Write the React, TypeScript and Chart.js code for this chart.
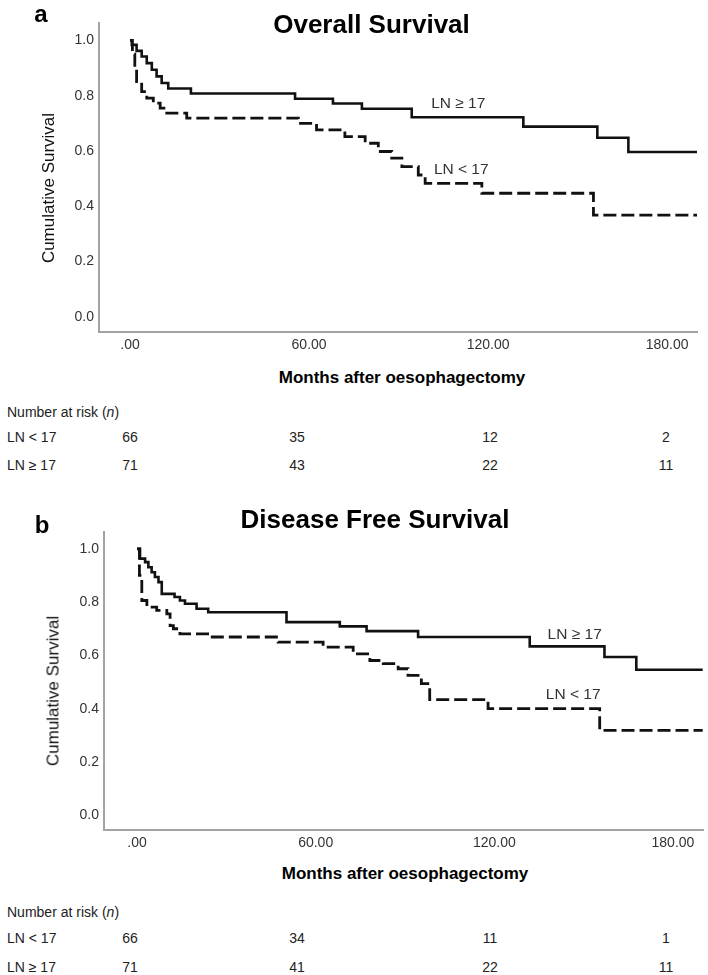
import React, { useEffect, useRef, useState } from "react";
import { Chart, registerables } from "chart.js";

Chart.register(...registerables);

// ---------- data ----------
const xTickValues = [0, 60, 120, 180];
const yTickValues = [0, 0.2, 0.4, 0.6, 0.8, 1.0];

const groupLow = "LN < 17";
const groupHigh = "LN \u2265 17";

// (a) Overall survival
const osHighT = [0, 0.6, 2.2, 3.9, 5.6, 7.3, 8.9, 10.6, 12.8, 20.4, 55.3, 68, 77.7, 94.4, 131.8, 156.6, 167, 190];
const osHighS = [1.0, 0.984, 0.962, 0.942, 0.918, 0.894, 0.87, 0.846, 0.826, 0.808, 0.789, 0.772, 0.753, 0.722, 0.688, 0.648, 0.596, 0.596];
const osLowT = [0, 0.8, 1.6, 2.2, 3.9, 5.6, 7.8, 10.1, 12.3, 19, 56.4, 62.5, 72, 78.8, 83.2, 87.7, 91.1, 96.6, 98.9, 117.9, 155.3, 190];
const osLowS = [1.0, 0.95, 0.9, 0.851, 0.815, 0.791, 0.773, 0.755, 0.737, 0.719, 0.7, 0.676, 0.652, 0.628, 0.598, 0.574, 0.543, 0.513, 0.483, 0.447, 0.368, 0.368];
const osRiskLow = [66, 35, 12, 2];
const osRiskHigh = [71, 43, 22, 11];

// (b) Disease free survival
const dfsHighT = [0, 1, 2.7, 3.8, 4.9, 6, 7.2, 8.3, 12.6, 14.4, 16.1, 20, 23.9, 50.2, 68.1, 77.1, 94.4, 131.9, 157, 167.7, 190];
const dfsHighS = [1.0, 0.963, 0.95, 0.931, 0.912, 0.894, 0.875, 0.831, 0.819, 0.806, 0.794, 0.775, 0.762, 0.725, 0.709, 0.691, 0.669, 0.634, 0.594, 0.546, 0.546];
const dfsLowT = [0, 0.8, 1.6, 3.3, 6.6, 10, 11.1, 12.2, 14.4, 24.5, 47.4, 62.5, 72.6, 78.2, 82.7, 87.7, 91, 95.5, 98.3, 117.9, 155.4, 190];
const dfsLowS = [1.0, 0.9, 0.806, 0.781, 0.769, 0.756, 0.712, 0.7, 0.681, 0.669, 0.65, 0.631, 0.606, 0.581, 0.569, 0.55, 0.525, 0.494, 0.434, 0.4, 0.319, 0.319];
const dfsRiskLow = [66, 34, 11, 1];
const dfsRiskHigh = [71, 41, 22, 11];

// ---------- styling ----------
const FONT = '"Liberation Sans", Arial, Helvetica, sans-serif';
const W = 708;
const CANVAS_H = 360;
const Y_AXIS_W = 60;
const X_AXIS_H = 20;

type Area = { left: number; top: number; right: number; bottom: number };

type PanelProps = {
  top: number;
  letter: string;
  letterPos: [number, number];
  title: string;
  titlePos: [number, number];
  yTitlePos: [number, number];
  xTitlePos: [number, number];
  area: Area;
  xMin: number;
  xMax: number;
  highT: number[];
  highS: number[];
  lowT: number[];
  lowS: number[];
  highLabelAt: [number, number];
  lowLabelAt: [number, number];
  riskLow: number[];
  riskHigh: number[];
  riskHeadY: number;
  riskLowY: number;
  riskHighY: number;
  riskCols: number[];
};

const centered = (x: number, y: number): React.CSSProperties => ({
  position: "absolute",
  left: x,
  top: y,
  transform: "translate(-50%, -50%)",
  whiteSpace: "nowrap",
  lineHeight: 1,
  fontFamily: FONT,
});

function KMPanel(p: PanelProps) {
  const ref = useRef<HTMLCanvasElement | null>(null);
  const [labels, setLabels] = useState<{ hi: [number, number]; lo: [number, number] } | null>(null);

  useEffect(() => {
    const canvas = ref.current;
    if (!canvas) return;
    const mk = (ts: number[], ss: number[]) => ts.map((t, i) => ({ x: t, y: ss[i] }));
    const chart = new Chart(canvas, {
      type: "line",
      data: {
        datasets: [
          {
            label: groupHigh,
            data: mk(p.highT, p.highS),
            borderColor: "#111",
            borderWidth: 2.6,
            stepped: "before",
            pointRadius: 0,
            fill: false,
          },
          {
            label: groupLow,
            data: mk(p.lowT, p.lowS),
            borderColor: "#111",
            borderWidth: 2.8,
            borderDash: [13, 5],
            stepped: "before",
            pointRadius: 0,
            fill: false,
          },
        ],
      },
      options: {
        animation: false,
        responsive: false,
        events: [],
        layout: {
          padding: {
            left: p.area.left - Y_AXIS_W,
            top: p.area.top,
            right: W - p.area.right,
            bottom: CANVAS_H - p.area.bottom - X_AXIS_H,
          },
        },
        plugins: {
          legend: { display: false },
          tooltip: { enabled: false },
          title: { display: false },
        },
        scales: {
          x: {
            type: "linear",
            min: p.xMin,
            max: p.xMax,
            grid: { display: false, drawTicks: false },
            border: { display: true, color: "#a3a3a3", width: 2 },
            ticks: {
              font: { family: FONT, size: 14 },
              color: "#333",
              padding: 5,
              maxRotation: 0,
              autoSkip: false,
              callback: (v: any) => (Number(v) === 0 ? ".00" : Number(v).toFixed(2)),
            },
            afterBuildTicks: (s: any) => {
              s.ticks = xTickValues.map((v) => ({ value: v }));
            },
            afterFit: (s: any) => {
              s.height = X_AXIS_H;
            },
          },
          y: {
            type: "linear",
            min: -0.055,
            max: 1.063,
            grid: { display: false, drawTicks: false },
            border: { display: true, color: "#a3a3a3", width: 2 },
            ticks: {
              font: { family: FONT, size: 14 },
              color: "#333",
              padding: 5,
              callback: (v: any) => Number(v).toFixed(1),
            },
            afterBuildTicks: (s: any) => {
              s.ticks = yTickValues.map((v) => ({ value: v }));
            },
            afterFit: (s: any) => {
              s.width = Y_AXIS_W;
            },
          },
        },
      },
    });
    const xs = chart.scales.x;
    const ys = chart.scales.y;
    setLabels({
      hi: [xs.getPixelForValue(p.highLabelAt[0]), ys.getPixelForValue(p.highLabelAt[1])],
      lo: [xs.getPixelForValue(p.lowLabelAt[0]), ys.getPixelForValue(p.lowLabelAt[1])],
    });
    return () => chart.destroy();
  }, []);

  const rowLabel = (y: number): React.CSSProperties => ({
    position: "absolute",
    left: 7,
    top: y,
    transform: "translateY(-50%)",
    lineHeight: 1,
    whiteSpace: "nowrap",
    fontFamily: FONT,
    fontSize: 14,
    color: "#222",
  });

  return (
    <div style={{ position: "absolute", left: 0, top: p.top, width: W, height: 475 }}>
      <canvas
        ref={ref}
        width={W}
        height={CANVAS_H}
        style={{ position: "absolute", left: 0, top: 0, width: W, height: CANVAS_H, display: "block" }}
      />
      <div style={{ ...centered(p.letterPos[0], p.letterPos[1]), fontSize: 24, fontWeight: "bold", color: "#000" }}>
        {p.letter}
      </div>
      <div style={{ ...centered(p.titlePos[0], p.titlePos[1]), fontSize: 26, fontWeight: "bold", color: "#000" }}>
        {p.title}
      </div>
      <div
        style={{
          ...centered(p.yTitlePos[0], p.yTitlePos[1]),
          transform: "translate(-50%, -50%) rotate(-90deg)",
          fontSize: 17,
          color: "#111",
        }}
      >
        Cumulative Survival
      </div>
      <div style={{ ...centered(p.xTitlePos[0], p.xTitlePos[1]), fontSize: 17, fontWeight: "bold", color: "#000" }}>
        Months after oesophagectomy
      </div>
      {labels && (
        <>
          <div style={{ ...centered(labels.hi[0], labels.hi[1]), fontSize: 15.5, color: "#333" }}>{groupHigh}</div>
          <div style={{ ...centered(labels.lo[0], labels.lo[1]), fontSize: 15.5, color: "#333" }}>{groupLow}</div>
        </>
      )}
      <div style={rowLabel(p.riskHeadY)}>
        Number at risk (<i>n</i>)
      </div>
      <div style={rowLabel(p.riskLowY)}>{groupLow}</div>
      <div style={rowLabel(p.riskHighY)}>{groupHigh}</div>
      {p.riskLow.map((v, i) => (
        <div key={"l" + i} style={{ ...centered(p.riskCols[i], p.riskLowY), fontSize: 14, color: "#222" }}>
          {v}
        </div>
      ))}
      {p.riskHigh.map((v, i) => (
        <div key={"h" + i} style={{ ...centered(p.riskCols[i], p.riskHighY), fontSize: 14, color: "#222" }}>
          {v}
        </div>
      ))}
    </div>
  );
}

export default function App() {
  const riskCols = [130, 297, 490, 666];
  return (
    <div
      style={{
        position: "absolute",
        left: 0,
        top: 0,
        width: W,
        height: 975,
        overflow: "hidden",
        background: "#fff",
      }}
    >
      <KMPanel
        top={0}
        letter="a"
        letterPos={[41, 14]}
        title="Overall Survival"
        titlePos={[371.5, 23.5]}
        yTitlePos={[47.5, 187.5]}
        xTitlePos={[402, 377]}
        area={{ left: 99, top: 23, right: 697, bottom: 332 }}
        xMin={-10.4}
        xMax={190}
        highT={osHighT}
        highS={osHighS}
        lowT={osLowT}
        lowS={osLowS}
        highLabelAt={[110, 0.774]}
        lowLabelAt={[111, 0.535]}
        riskLow={osRiskLow}
        riskHigh={osRiskHigh}
        riskHeadY={412}
        riskLowY={437}
        riskHighY={465}
        riskCols={riskCols}
      />
      <KMPanel
        top={500}
        letter="b"
        letterPos={[42, 25]}
        title="Disease Free Survival"
        titlePos={[375, 19]}
        yTitlePos={[53, 191]}
        xTitlePos={[405, 373]}
        area={{ left: 104, top: 32, right: 703, bottom: 330 }}
        xMin={-11.1}
        xMax={190.1}
        highT={dfsHighT}
        highS={dfsHighS}
        lowT={dfsLowT}
        lowS={dfsLowS}
        highLabelAt={[147, 0.682]}
        lowLabelAt={[146.5, 0.457]}
        riskLow={dfsRiskLow}
        riskHigh={dfsRiskHigh}
        riskHeadY={412}
        riskLowY={438}
        riskHighY={467}
        riskCols={riskCols}
      />
    </div>
  );
}
